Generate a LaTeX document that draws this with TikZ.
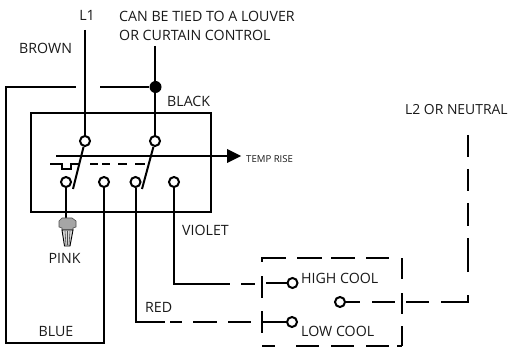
\documentclass[tikz,border=0pt]{standalone}
\usepackage{fontspec}
\setmainfont{Open Sans}
\tikzset{
  x=1pt,y=-1pt,
  wire/.style={line width=2pt,black},
  term/.style={circle,draw=black,line width=2pt,fill=white,minimum size=10pt,inner sep=0pt},
  lab/.style={font=\fontsize{14.2}{16}\selectfont,inner sep=0pt,text=black!90},
  dot/.style={circle,fill=black,minimum size=12pt,inner sep=0pt}
}
\begin{document}
\begin{tikzpicture}
\useasboundingbox (0,0) rectangle (508,347);
% coordinates
\coordinate (l1top) at (85,30);
\coordinate (ctop) at (155,46);
\coordinate (bl) at (6,87);
\coordinate (brs) at (75,87);
\coordinate (bre) at (100,87);
% enclosure
\node[draw=black,line width=2pt,minimum width=180pt,minimum height=99pt,inner sep=0pt] (box) at (121,162.5) {};
% terminals
\node[term] (t1) at (85,141) {};
\node[term] (t2) at (155,141) {};
\node[term] (b1) at (66,182) {};
\node[term] (b2) at (104,182) {};
\node[term] (b3) at (135.5,182) {};
\node[term] (b4) at (174,182) {};
\node[dot] (j) at (155.5,87) {};
\draw[wire] (l1top) -- (t1);
\draw[wire] (ctop) -- (t2);
\draw[wire] (bre) -- (j);
\draw[wire,line cap=rect] (brs) -- (bl) -- (6,343) -- (104,343) -- (b2);
% switch blades
\draw[wire] (t1) -- (73,189);
\draw[wire] (t2) -- (142,189);
% temp rise arrow
\coordinate (tr0) at (56,156);
\coordinate (tr1) at (228,156);
\draw[wire] (tr0) -- (tr1);
\fill[black] (227,149) -- (241,156) -- (227,163) -- cycle;
\node[font=\fontsize{9.6}{10}\selectfont,anchor=base west,inner sep=0pt,text=black!90] (tempr) at (246,163) {TEMP RISE};
% linkage
\draw[wire] (50,164.5) -- (62,164.5) -- (62,169) -- (71,169) -- (71,164.5) -- (80,164.5);
\draw[wire] (90,164.5) -- (98,164.5) (102,164.5) -- (110,164.5) (118,164.5) -- (127,164.5) (135,164.5) -- (145,164.5);
% pink nut
\draw[wire] (b1) -- (66,219);
\node[lab,anchor=base] (pink) at (64.5,263) {PINK};
\fill[black!35,draw=black!70,line width=.6pt] (59,221) -- (62,218) -- (72,218) -- (76,221) -- (76,227) -- (73,228) -- (73,230) -- (62,230) -- (62,228) -- (59,227) -- cycle;
\fill[black!15,draw=black,line width=.9pt] (62,230) -- (73,230) -- (70,246) -- (64.5,246) -- cycle;
\draw[black!70,line width=.6pt] (65,231) -- (66,245) (67.5,231) -- (67.5,245) (70,231) -- (69,245);
% red
\draw[wire] (b3) -- (135.5,322) -- (165,322);
\draw[wire] (170,322) -- (182,322) (193,322) -- (217,322) (228,322) -- (251,322);
% violet
\draw[wire] (b4) -- (174,284) -- (230,284);
\draw[wire] (241,284) -- (255,284);
% dashed control box
\draw[wire] (262,258) -- (286,258) (297,258) -- (322,258) (331,258) -- (355,258) (366,258) -- (389,258);
\draw[wire] (262,257) -- (262,262);
\draw[wire] (262,276) -- (262,298) (262,311) -- (262,333);
\draw[wire] (262,346) -- (275,346) (296,346) -- (319,346) (331,346) -- (354,346) (366,346) -- (389,346) (397,346) -- (402,346);
\draw[wire] (402,258) -- (402,279) (402,293) -- (402,314) (402,326) -- (402,346);
% switch contacts
\node[term] (hc) at (292.5,283) {};
\node[term] (lc) at (292,322) {};
\node[term] (cm) at (340,302) {};
\draw[wire] (266,283) -- (hc);
\draw[wire] (262,322) -- (lc);
\draw[wire] (cm) -- (360,302);
\draw[wire] (372,302) -- (395,302);
\draw[wire] (406,302) -- (429,302);
\draw[wire] (441,302) -- (468,302) -- (468,295);
\draw[wire] (468,272) -- (468,238) (468,135) -- (468,157);
\draw[wire] (468,169) -- (468,191) (468,203) -- (468,226);
% labels
\node[lab,anchor=base] (l1) at (87,21) {L1};
\node[lab,anchor=base west] (can) at (119,22) {CAN BE TIED TO A LOUVER};
\node[lab,anchor=base west] (orc) at (119,41) {OR CURTAIN CONTROL};
\node[lab,anchor=base west] (brown) at (19,54) {BROWN};
\node[lab,anchor=base west] (black) at (167,107) {BLACK};
\node[lab,anchor=base west] (violet) at (182,236) {VIOLET};
\node[lab,anchor=base west] (red) at (145,312) {RED};
\node[lab,anchor=base west] (blue) at (38.5,336) {BLUE};
\node[lab,anchor=base west,font=\fontsize{13.9}{16}\selectfont] (l2) at (405,115) {L2 OR NEUTRAL};
\node[lab,anchor=base west] (high) at (301,283) {HIGH COOL};
\node[lab,anchor=base west] (low) at (301,336) {LOW COOL};
\end{tikzpicture}
\end{document}
